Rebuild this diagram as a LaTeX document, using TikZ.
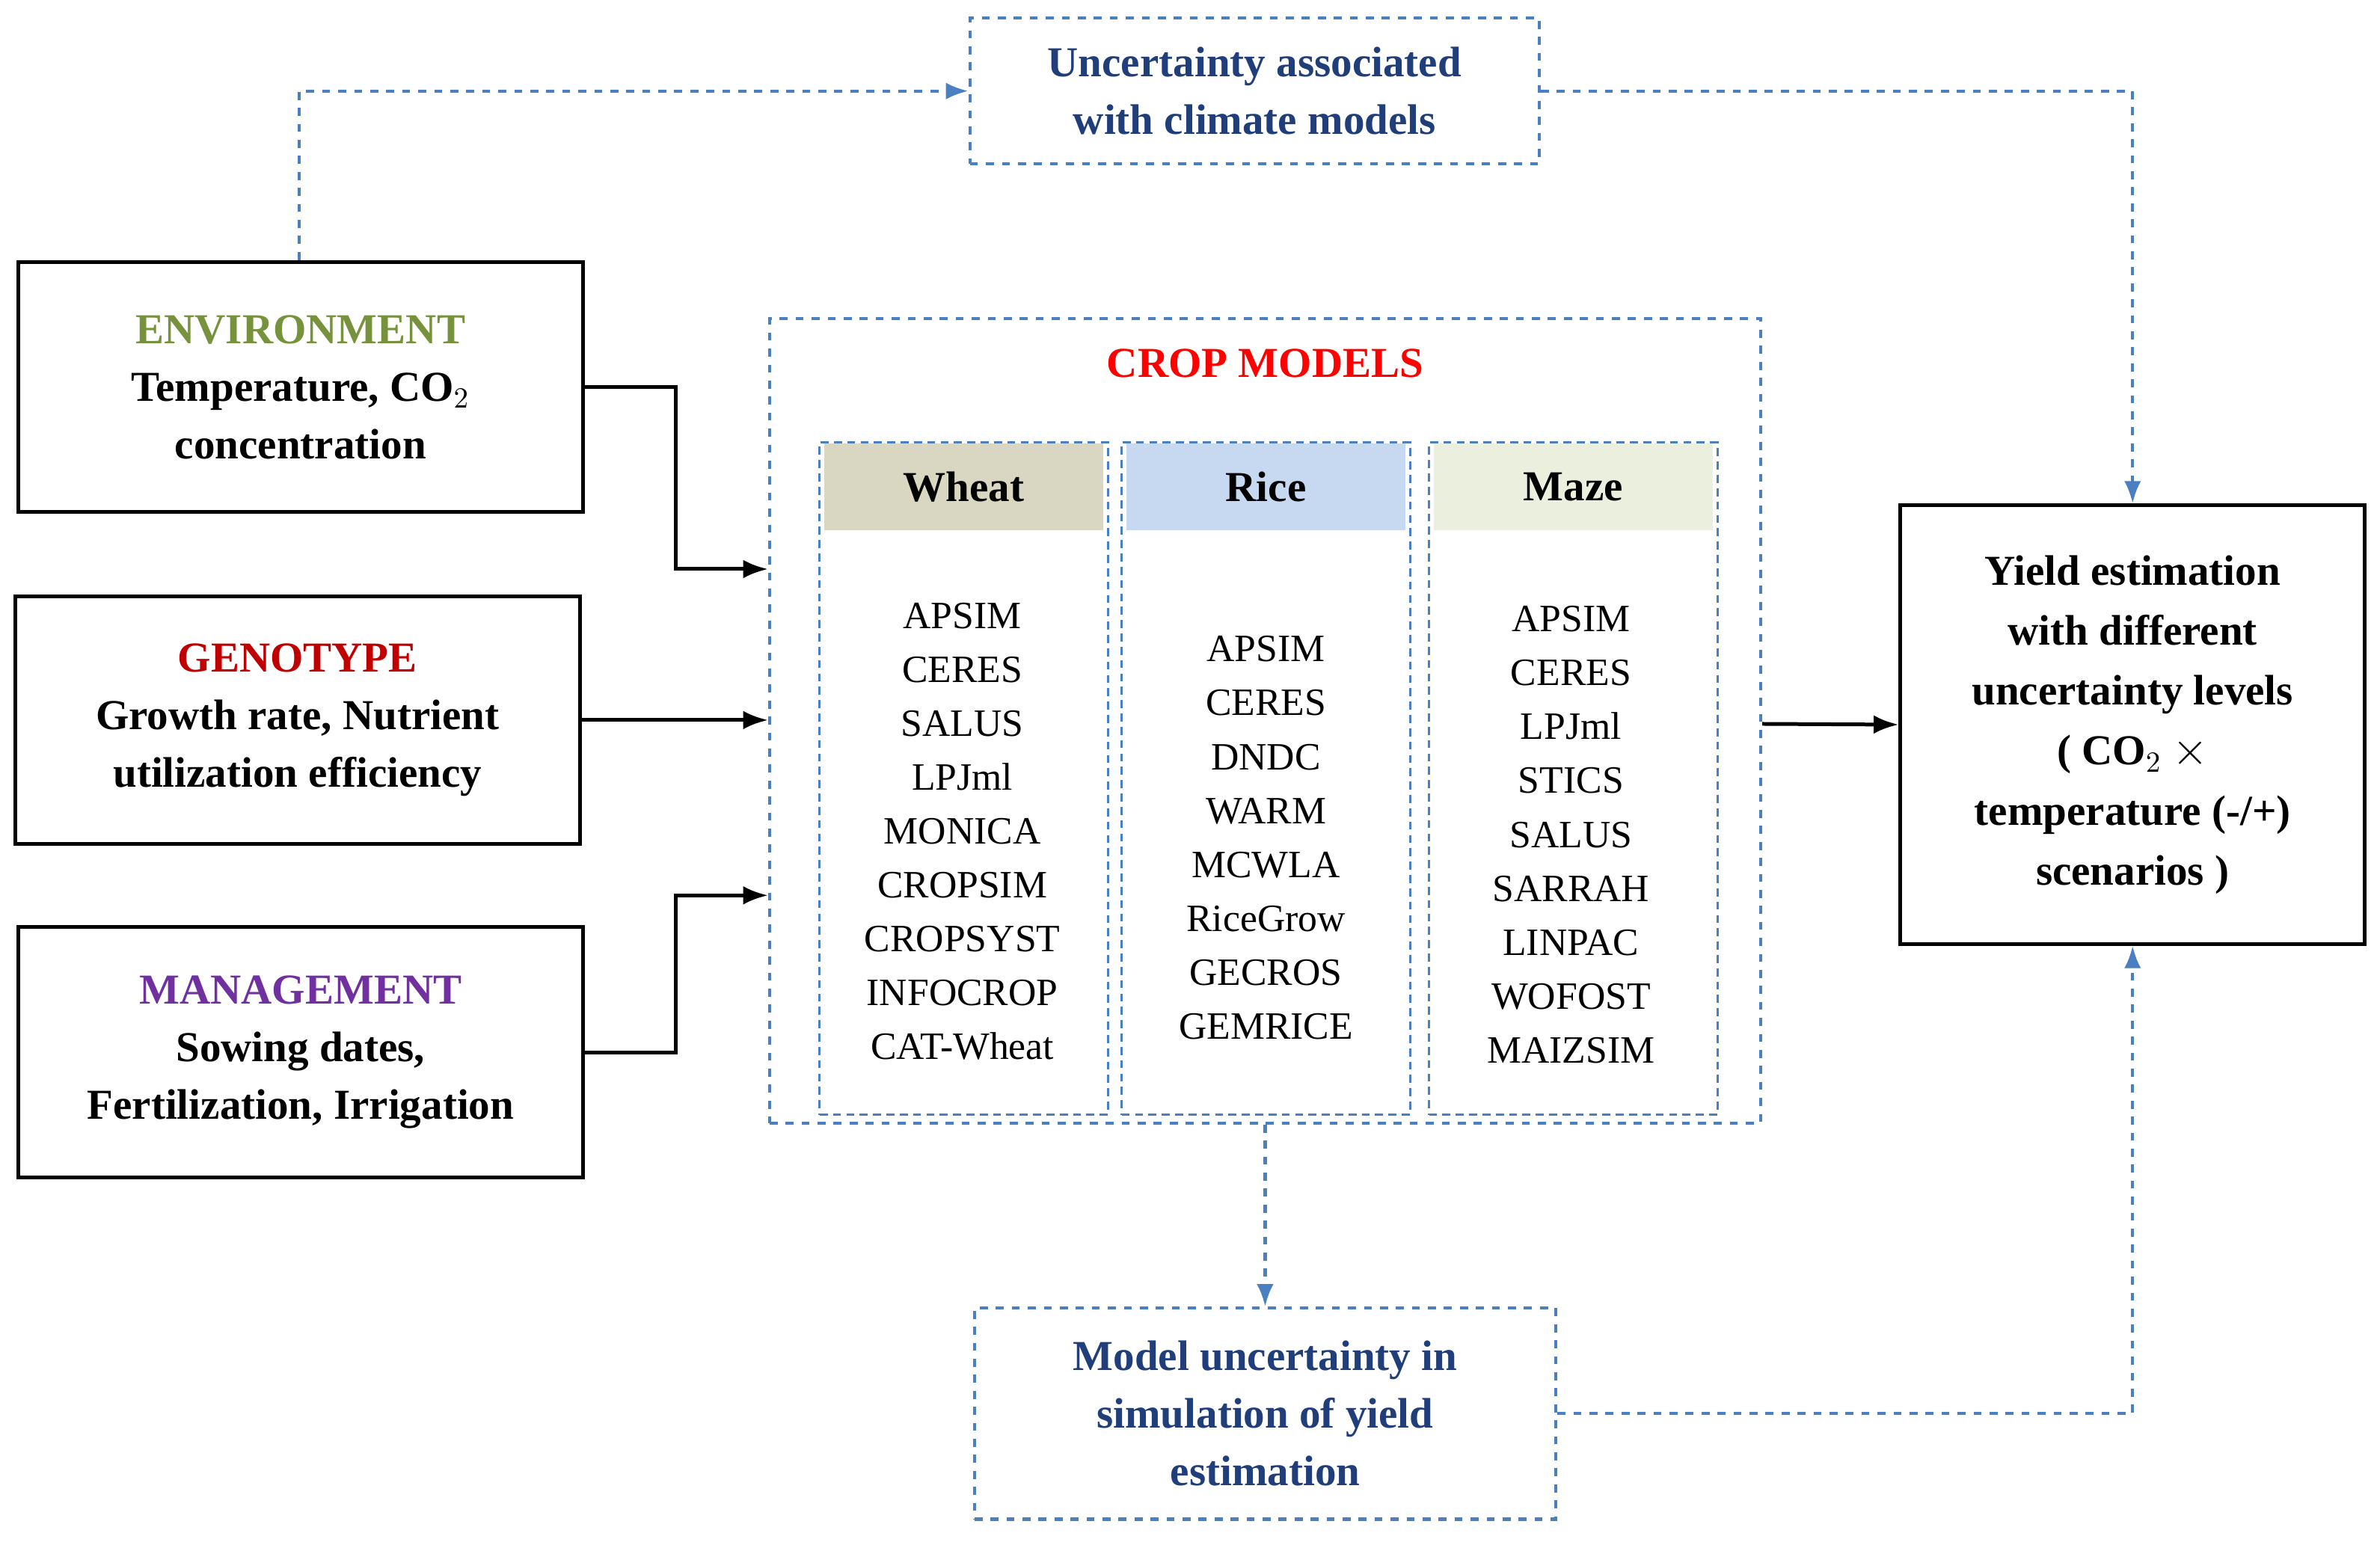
\documentclass[tikz,border=0pt]{standalone}
\usepackage{fontspec}
\setmainfont{Liberation Serif}
\usetikzlibrary{arrows.meta,positioning,calc}
\definecolor{dblue}{HTML}{4A7FC1}
\definecolor{tblue}{HTML}{1F3E7A}
\definecolor{envgreen}{HTML}{76923C}
\definecolor{genred}{HTML}{C00000}
\definecolor{manpurple}{HTML}{7030A0}
\definecolor{wheatc}{HTML}{D9D6C1}
\definecolor{ricec}{HTML}{C6D9F1}
\definecolor{mazec}{HTML}{EBF0DE}
\tikzset{>=Latex,
  bigbf/.style={font=\fontsize{16}{21.6}\selectfont\bfseries},
  inbox/.style={draw,line width=1.4pt,minimum width=7.44cm,minimum height=3.3cm,align=center,bigbf,inner sep=0pt},
  ubox/.style={draw=dblue,dashed,line width=1.2pt,align=center,text=tblue,bigbf,inner sep=0pt},
  col/.style={draw=dblue,densely dashed,line width=0.8pt,minimum width=3.8cm,minimum height=8.86cm,inner sep=0pt},
  head/.style={minimum width=3.68cm,minimum height=1.14cm,bigbf,inner sep=0pt},
  mlist/.style={align=center,font=\fontsize{14.5}{20.2}\selectfont},
  dlink/.style={->,dblue,dashed,line width=1.2pt},
  blink/.style={->,line width=1.4pt}
}
\begin{document}
\begin{tikzpicture}
	\useasboundingbox (0,0) rectangle (31.36,20.32);
	% input boxes
	\node[inbox] (env) at (3.96,15.22) {\textcolor{envgreen}{ENVIRONMENT}\\Temperature, CO$_2$\\concentration};
	\node[inbox,minimum height=3.26cm] (geno) at (3.92,10.83) {\textcolor{genred}{GENOTYPE}\\Growth rate, Nutrient\\utilization efficiency};
	\node[inbox] (mgmt) at (3.96,6.45) {\textcolor{manpurple}{MANAGEMENT}\\Sowing dates,\\Fertilization, Irrigation};

	% crop models
	\node[ubox,minimum width=13.06cm,minimum height=10.6cm] (crop) at (16.67,10.82) {};
	\node[below=0.3cm of crop.north,text=red,bigbf] (croptitle) {CROP MODELS};
	\node[col] (wheat) at (12.7,10.06) {};
	\node[col] (rice) at (16.68,10.06) {};
	\node[col] (maze) at (20.73,10.06) {};
	\node[head,fill=wheatc,below=0.02cm of wheat.north] (wheath) {Wheat};
	\node[head,fill=ricec,below=0.02cm of rice.north] (riceh) {Rice};
	\node[head,fill=mazec,below=0.02cm of maze.north] (mazeh) {Maze};
	\node[mlist] (wheatl) at (12.68,9.36) {APSIM\\CERES\\SALUS\\LPJml\\MONICA\\CROPSIM\\CROPSYST\\INFOCROP\\CAT-Wheat};
	\node[mlist] (ricel) at (16.68,9.28) {APSIM\\CERES\\DNDC\\WARM\\MCWLA\\RiceGrow\\GECROS\\GEMRICE};
	\node[mlist] (mazel) at (20.7,9.32) {APSIM\\CERES\\LPJml\\STICS\\SALUS\\SARRAH\\LINPAC\\WOFOST\\MAIZSIM};

	% uncertainty and output boxes
	\node[ubox,minimum width=7.5cm,minimum height=1.92cm] (clim) at (16.53,19.12) {Uncertainty associated\\with climate models};
	\node[ubox,minimum width=7.66cm,minimum height=2.78cm] (modunc) at (16.67,1.69) {Model uncertainty in\\simulation of yield\\estimation};
	\node[draw,line width=1.4pt,minimum width=6.12cm,minimum height=5.78cm,align=center,font=\fontsize{16}{22.5}\selectfont\bfseries,inner sep=0pt] (yield) at (28.1,10.77) {Yield estimation\\with different\\uncertainty levels\\( CO$_2$ $\times$\\temperature (-/+)\\scenarios )};

	% solid arrows
	\draw[blink] (env.east) -| (8.9,12.82) -- (8.9,12.82 -| crop.west);
	\draw[blink] (geno.east) -- (geno.east -| crop.west);
	\draw[blink] (mgmt.east) -| (8.9,8.52) -- (8.9,8.52 -| crop.west);
	\draw[blink] (crop.east |- 0,10.78) -- (yield.west);

	% dashed arrows
	\draw[dlink] (env.north -| 3.94,0) |- (clim.west);
	\draw[dlink] (clim.east) -| (yield.north);
	\draw[dlink] (crop.south) -- (modunc.north);
	\draw[dlink] (modunc.east) -| (yield.south);
\end{tikzpicture}
\end{document}
